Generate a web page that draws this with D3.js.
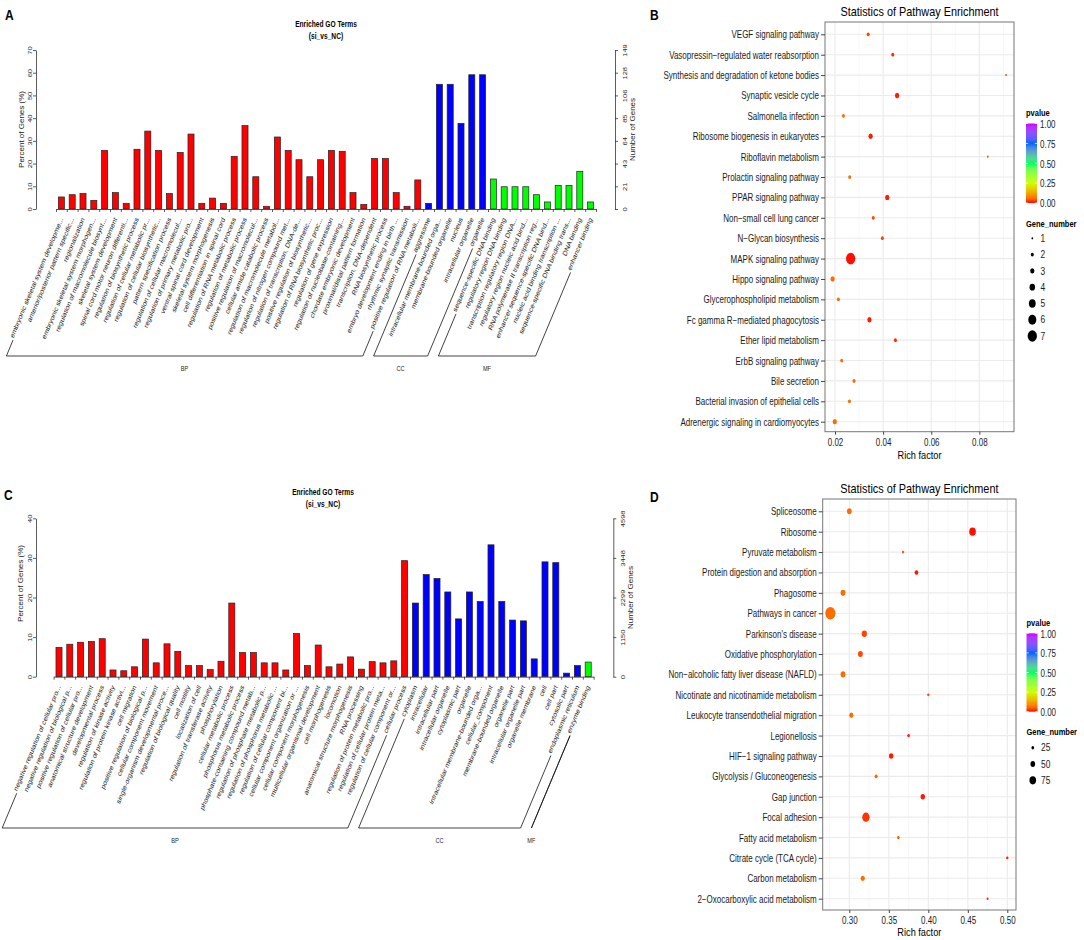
<!DOCTYPE html>
<html><head><meta charset="utf-8">
<script src="https://cdn.jsdelivr.net/npm/d3@7"></script>
<style>body{margin:0;background:#fff;} svg{display:block;}</style>
</head><body><script>
// ---------------- DATA ----------------
const goGroupNames = ["BP","CC","MF"];
const goGroupColors = ["#FF0000","#0000FF","#00FF00"];

const goTermsA = ["embryonic skeletal system developme...","anterior/posterior pattern specific...","regionalization","embryonic skeletal system morphogen...","regulation of macromolecule biosynt...","skeletal system development","spinal cord motor neuron differenti...","regulation of biosynthetic process","regulation of cellular metabolic pr...","regulation of cellular biosynthetic...","pattern specification process","regulation of cellular macromolecul...","regulation of primary metabolic pro...","ventral spinal cord development","skeletal system morphogenesis","cell differentiation in spinal cord","regulation of RNA metabolic process","regulation of metabolic process","positive regulation of macromolecul...","cellular amide catabolic process","regulation of macromolecule metabol...","regulation of nitrogen compound met...","regulation of transcription, DNA-de...","positive regulation of biosynthetic...","regulation of RNA biosynthetic proc...","regulation of gene expression","regulation of nucleobase-containing...","chordate embryonic development","proximal/distal pattern formation","transcription, DNA-dependent","RNA biosynthetic process","embryo development ending in birth ...","rhythmic synaptic transmission","positive regulation of RNA metaboli...","aggresome","intracellular membrane-bounded orga...","membrane-bounded organelle","nucleus","intracellular organelle","organelle","sequence-specific DNA binding","regulatory region DNA binding","transcription regulatory region DNA...","regulatory region nucleic acid bind...","RNA polymerase II transcription reg...","enhancer sequence-specific DNA bind...","nucleic acid binding transcription ...","sequence-specific DNA binding trans...","DNA binding","enhancer binding"];
const goPercentA = [5.3,6.3,6.8,3.8,25.8,7.2,2.5,26.3,34.3,25.8,6.8,24.9,33.0,2.5,4.8,2.5,23.2,36.7,14.2,1.2,31.7,25.8,21.7,14.2,21.7,25.8,25.4,7.2,2.0,22.2,22.2,7.2,1.2,12.8,2.5,54.9,54.9,37.7,59.1,59.1,13.2,9.8,9.8,9.8,6.3,3.1,10.4,10.4,16.6,3.1];
const goGroupSizesA = [34,6,10];
const goLeftTicksA = [0,10,20,30,40,50,60,70];
const goRightTicksA = [0,21,43,64,85,106,128,149];

const goTermsC = ["negative regulation of cellular pro...","negative regulation of biological p...","positive regulation of cellular pro...","anatomical structure development","developmental process","regulation of kinase activity","regulation of protein kinase activi...","cell migration","positive regulation of biological p...","cellular component movement","single-organism developmental proce...","regulation of biological quality","cell motility","localization of cell","regulation of transferase activity","phosphorylation","cellular metabolic process","phosphorus metabolic process","phosphate-containing compound metab...","regulation of phosphate metabolic p...","regulation of phosphorus metabolic ...","regulation of cellular component bi...","cellular component organization or ...","cellular component morphogenesis","multicellular organismal development","cell morphogenesis","locomotion","anatomical structure morphogenesis","RNA processing","regulation of protein metabolic pro...","regulation of cellular protein meta...","regulation of cellular component or...","cellular process","cytoplasm","intracellular","intracellular part","intracellular organelle","cytoplasmic part","organelle","intracellular membrane-bounded orga...","cellular_component","membrane-bounded organelle","organelle part","intracellular organelle part","organelle membrane","cell","cell part","cytosolic part","endoplasmic reticulum","enzyme binding"];
const goPercentC = [7.4,8.2,8.7,8.9,9.6,1.7,1.5,2.5,9.5,3.5,8.3,6.4,2.8,2.8,1.8,3.9,18.6,6.1,6.1,3.5,3.5,1.7,10.9,2.8,8.0,2.5,3.2,5.0,1.9,3.8,3.5,4.0,29.3,18.6,25.8,24.8,21.4,14.6,21.4,19.0,33.3,19.0,14.3,14.1,4.5,29.0,28.8,0.9,2.8,3.7];
const goGroupSizesC = [33,16,1];
const goLeftTicksC = [0,10,20,30,40];
const goRightTicksC = [0,1150,2299,3448,4598];

const pathwaysB = ["VEGF signaling pathway","Vasopressin\u2212regulated water reabsorption","Synthesis and degradation of ketone bodies","Synaptic vesicle cycle","Salmonella infection","Ribosome biogenesis in eukaryotes","Riboflavin metabolism","Prolactin signaling pathway","PPAR signaling pathway","Non\u2212small cell lung cancer","N\u2212Glycan biosynthesis","MAPK signaling pathway","Hippo signaling pathway","Glycerophospholipid metabolism","Fc gamma R\u2212mediated phagocytosis","Ether lipid metabolism","ErbB signaling pathway","Bile secretion","Bacterial invasion of epithelial cells","Adrenergic signaling in cardiomyocytes"];
const richB = [0.0338,0.0440,0.0911,0.0458,0.0235,0.0348,0.0835,0.0261,0.0417,0.0359,0.0397,0.0265,0.0190,0.0214,0.0343,0.0451,0.0228,0.0279,0.0260,0.0199];
const genesB = [2,2,1,3,2,3,1,2,3,2,2,7,3,2,3,2,2,2,2,3];
const pvalB = [0.025,0.01,0.03,0.005,0.06,0.005,0.03,0.06,0.005,0.025,0.025,0.002,0.06,0.06,0.005,0.01,0.06,0.05,0.06,0.06];
const richTicksB = [0.02,0.04,0.06,0.08];
const geneBreaksB = [1,2,3,4,5,6,7];

const pathwaysD = ["Spliceosome","Ribosome","Pyruvate metabolism","Protein digestion and absorption","Phagosome","Pathways in cancer","Parkinson's disease","Oxidative phosphorylation","Non\u2212alcoholic fatty liver disease (NAFLD)","Nicotinate and nicotinamide metabolism","Leukocyte transendothelial migration","Legionellosis","HIF\u22121 signaling pathway","Glycolysis / Gluconeogenesis","Gap junction","Focal adhesion","Fatty acid metabolism","Citrate cycle (TCA cycle)","Carbon metabolism","2\u2212Oxocarboxylic acid metabolism"];
const richD = [0.300,0.456,0.368,0.385,0.292,0.276,0.319,0.314,0.292,0.400,0.3025,0.375,0.353,0.334,0.393,0.321,0.362,0.500,0.317,0.475];
const genesD = [51,75,19,38,53,119,57,53,53,19,43,25,47,28,47,85,23,19,43,15];
const pvalD = [0.06,0.002,0.04,0.005,0.06,0.06,0.025,0.03,0.06,0.03,0.06,0.005,0.005,0.05,0.005,0.015,0.04,0.005,0.06,0.01];
const richTicksD = [0.30,0.35,0.40,0.45,0.50];
const geneBreaksD = [25,50,75];

const pvalueBreaks = [0,0.25,0.5,0.75,1];
const pvalueColors = ["#FF0000","#CCFF00","#00FF66","#0066FF","#CC00FF"];

// ---------------- DRAWING ----------------
const SX = 0.8; // horizontal squash of the reference figure
const FONT = '"Liberation Sans", Arial, Helvetica, sans-serif';
const svg = d3.select('body').append('svg').attr('width',1084).attr('height',940).style('font-family',FONT);
svg.append('rect').attr('width',1084).attr('height',940).attr('fill','#fff');
const defs = svg.append('defs');

function stext(parent, x, y, s, size, opt={}) {
  const t = parent.append('text')
    .attr('transform', `translate(${x},${y}) scale(${SX},1)` + (opt.rot!==undefined?` rotate(${opt.rot})`:''))
    .attr('text-anchor', opt.anchor||'start')
    .style('font-size', size+'px')
    .attr('fill', opt.fill||'#000')
    .text(s);
  if (opt.bold) t.style('font-weight','bold');
  if (opt.dy) t.attr('dy',opt.dy);
  return t;
}

function goPanel(o) {
  const g = svg.append('g');
  const n = o.terms.length;
  const xb = d3.scaleBand().domain(d3.range(n)).range([o.x0,o.x1]).paddingInner(0.44).paddingOuter(0.22);
  const xl = d3.scaleLinear().domain([0,n]).range([o.x0,o.x1]);
  const y = d3.scaleLinear().domain([0,o.yMax]).range([o.yBase,o.yTop]);
  const grp = o.groupSizes.flatMap((s,gi)=>d3.range(s).map(()=>gi));

  g.append('g').selectAll('rect').data(o.values).join('rect')
    .attr('x',(d,i)=>xb(i)).attr('y',d=>y(d))
    .attr('width',xb.bandwidth()).attr('height',d=>y(0)-y(d))
    .attr('fill',(d,i)=>goGroupColors[grp[i]])
    .attr('stroke','#222').attr('stroke-width',0.7);

  const styleAxis = sel => { sel.attr('font-family',null).attr('font-size',null);
    sel.selectAll('path,line').attr('stroke','#333').attr('stroke-width',0.8); };

  g.append('g').attr('transform',`translate(0,${o.yBase})`)
    .call(d3.axisBottom(xl).tickValues(d3.range(n+1)).tickSize(3).tickSizeOuter(0).tickFormat(''))
    .call(styleAxis);

  const la = g.append('g').attr('transform',`translate(${o.xLeft},0)`)
    .call(d3.axisLeft(y).tickValues(o.leftTicks).tickSize(3).tickSizeOuter(0)).call(styleAxis);
  la.selectAll('text').attr('x',null).attr('dy',null).attr('text-anchor','middle').attr('fill','#222')
    .style('font-size','7.5px').attr('transform',`translate(-4.5,0) scale(${SX},1) rotate(-90)`);

  const ra = g.append('g').attr('transform',`translate(${o.xRight},0)`)
    .call(d3.axisRight(y).tickValues(o.leftTicks).tickSize(3).tickSizeOuter(0)
      .tickFormat((d,i)=>o.rightTicks[i])).call(styleAxis);
  ra.selectAll('text').attr('x',null).attr('dy',null).attr('text-anchor','middle').attr('fill','#222')
    .style('font-size','7.5px').attr('transform',`translate(${o.rightLabOff},0) scale(${SX},1) rotate(-90)`);

  stext(g, o.leftTitleX, o.leftTitleY, 'Percent of Genes (%)', 8, {anchor:'middle', rot:-90, fill:'#222'});
  stext(g, o.rightTitleX, o.rightTitleY, 'Number of Genes', 8, {anchor:'middle', rot:-90, fill:'#222'});
  stext(g, o.titleX, o.titleY1, 'Enriched GO Terms', 8.3, {anchor:'middle', bold:true});
  stext(g, o.titleX, o.titleY2, '(si_vs_NC)', 8.3, {anchor:'middle', bold:true});

  // rotated term labels
  const A0 = 62.4, ca = Math.cos(A0*Math.PI/180), sa = Math.sin(A0*Math.PI/180);
  const ay = o.yBase + 9;
  const cx = i => xb(i) + xb.bandwidth()/2;
  const labs = g.append('g').selectAll('text').data(o.terms).join('text')
    .attr('transform',(d,i)=>`translate(${cx(i)},${ay}) scale(${SX},1) rotate(${-A0})`)
    .attr('text-anchor','end').attr('dy','0.35em').style('font-size','7.6px').attr('fill','#111')
    .text(d=>d);
  const lens = labs.nodes().map(nd=>nd.getComputedTextLength());
  const nrm = Math.hypot(SX*ca, sa);
  const u = {x:-SX*ca/nrm, y:sa/nrm};       // down-left along text
  const p = {x:sa/nrm, y:SX*ca/nrm};        // perpendicular, right-down
  const corner = i => {
    const S = {x: cx(i) - lens[i]*SX*ca, y: ay + lens[i]*sa};
    const T = {x: S.x + 2*u.x + 2.5*p.x, y: S.y + 2*u.y + 2.5*p.y};
    const t = (o.bracketY - T.y)/u.y;
    return {T, B:{x: T.x + t*u.x, y:o.bracketY}};
  };
  let start = 0;
  o.groupSizes.forEach((s,gi)=>{
    const a = corner(start), b = corner(start+s-1);
    g.append('path').attr('d',`M${a.T.x},${a.T.y}L${a.B.x},${a.B.y}L${b.B.x},${b.B.y}L${b.T.x},${b.T.y}`)
      .attr('fill','none').attr('stroke','#111').attr('stroke-width',0.8);
    stext(g, (a.B.x+b.B.x)/2, o.groupLabelY, goGroupNames[gi], 7, {anchor:'middle', fill:'#222'});
    start += s;
  });
  stext(g, o.letterX, o.letterY, o.letter, 15, {bold:true});
}

const colorScale = d3.scaleLinear().domain(pvalueBreaks).range(pvalueColors).interpolate(d3.interpolateLab);

function dotPanel(o) {
  const g = svg.append('g');
  const x = d3.scaleLinear().domain(o.xDomain).range([o.left,o.right]);
  const y = d3.scalePoint().domain(o.pathways).range([o.firstY,o.lastY]);
  const r = d3.scaleLinear().domain(o.rDomain).range(o.rRange);

  g.append('g').selectAll('line').data(o.minor).join('line')
    .attr('x1',d=>x(d)).attr('x2',d=>x(d)).attr('y1',o.top).attr('y2',o.bottom)
    .attr('stroke','#f4f4f4').attr('stroke-width',0.6);
  g.append('g').selectAll('line').data(o.xTicks).join('line')
    .attr('x1',d=>x(d)).attr('x2',d=>x(d)).attr('y1',o.top).attr('y2',o.bottom)
    .attr('stroke','#ebebeb').attr('stroke-width',1.1);
  g.append('g').selectAll('line').data(o.pathways).join('line')
    .attr('x1',o.left).attr('x2',o.right).attr('y1',d=>y(d)).attr('y2',d=>y(d))
    .attr('stroke','#ebebeb').attr('stroke-width',1.1);

  g.append('g').selectAll('ellipse').data(o.pathways).join('ellipse')
    .attr('cx',(d,i)=>x(o.rich[i])).attr('cy',d=>y(d))
    .attr('rx',(d,i)=>SX*r(o.genes[i])).attr('ry',(d,i)=>r(o.genes[i]))
    .attr('fill',(d,i)=>colorScale(o.pval[i]));

  g.append('rect').attr('x',o.left).attr('y',o.top).attr('width',o.right-o.left).attr('height',o.bottom-o.top)
    .attr('fill','none').attr('stroke','#777').attr('stroke-width',1);

  const la = g.append('g').attr('transform',`translate(${o.left},0)`).call(d3.axisLeft(y).tickSize(4));
  la.select('.domain').remove();
  la.attr('font-family',null).attr('font-size',null);
  la.selectAll('line').attr('stroke','#444');
  la.selectAll('text').attr('x',null).attr('dy','0.35em').attr('fill','#1a1a1a').style('font-size','10px')
    .attr('transform',`translate(-6,0) scale(${SX},1)`);

  const ba = g.append('g').attr('transform',`translate(0,${o.bottom})`)
    .call(d3.axisBottom(x).tickValues(o.xTicks).tickSize(3).tickFormat(d3.format('.2f')));
  ba.select('.domain').remove();
  ba.attr('font-family',null).attr('font-size',null);
  ba.selectAll('line').attr('stroke','#444');
  ba.selectAll('text').attr('y',null).attr('dy',null).attr('fill','#1a1a1a').style('font-size','10px')
    .attr('transform',`translate(0,${o.tickLabOff}) scale(${SX},1)`);

  stext(g, (o.left+o.right)/2, o.xTitleY, 'Rich factor', 11.5, {anchor:'middle'});
  stext(g, (o.left+o.right)/2, o.titleY, 'Statistics of Pathway Enrichment', 13.6, {anchor:'middle'});
  stext(g, o.letterX, o.letterY, o.letter, 15, {bold:true});

  // colour bar legend
  stext(g, o.legX, o.pTitleY, 'pvalue', 9.4, {bold:true});
  const gid = 'grad'+o.letter;
  const grad = defs.append('linearGradient').attr('id',gid).attr('x1',0).attr('y1',1).attr('x2',0).attr('y2',0);
  grad.selectAll('stop').data(d3.range(0,1.0001,0.05)).join('stop')
    .attr('offset',d=>d).attr('stop-color',d=>colorScale(d));
  const yb = d3.scaleLinear().domain([0,1]).range([o.barBottom,o.barTop]);
  g.append('rect').attr('x',o.legX).attr('y',o.barTop).attr('width',11).attr('height',o.barBottom-o.barTop)
    .attr('fill',`url(#${gid})`);
  g.append('g').selectAll('path').data(pvalueBreaks).join('path')
    .attr('d',d=>`M${o.legX},${yb(d)}h2.2M${o.legX+8.8},${yb(d)}h2.2`)
    .attr('stroke','#fff').attr('stroke-width',0.8);
  g.append('g').selectAll('text').data(pvalueBreaks).join('text')
    .attr('transform',d=>`translate(${o.legX+14},${yb(d)+0.8}) scale(${SX},1)`).attr('dy','0.35em')
    .style('font-size','10px').attr('fill','#1a1a1a').text(d3.format('.2f'));

  // size legend
  stext(g, o.legX, o.gTitleY, 'Gene_number', 9.4, {bold:true});
  const ly = d3.scalePoint().domain(o.geneBreaks).range([o.gFirstY,o.gLastY]);
  g.append('g').selectAll('ellipse').data(o.geneBreaks).join('ellipse')
    .attr('cx',o.legX+6.3).attr('cy',d=>ly(d)).attr('rx',d=>SX*r(d)).attr('ry',d=>r(d)).attr('fill','#000');
  g.append('g').selectAll('text').data(o.geneBreaks).join('text')
    .attr('transform',d=>`translate(${o.legX+14.5},${ly(d)}) scale(${SX},1)`).attr('dy','0.35em')
    .style('font-size','10.5px').attr('fill','#1a1a1a').text(d=>d);
}

goPanel({terms:goTermsA, values:goPercentA, groupSizes:goGroupSizesA, leftTicks:goLeftTicksA, rightTicks:goRightTicksA,
  x0:56, x1:596, yBase:209, yTop:50, yMax:70, xLeft:36, xRight:615, rightLabOff:12.2,
  leftTitleX:23.5, leftTitleY:129.5, rightTitleX:635, rightTitleY:129.5,
  titleX:326, titleY1:27.2, titleY2:39, bracketY:356, groupLabelY:370.8,
  letter:'A', letterX:5, letterY:20});

goPanel({terms:goTermsC, values:goPercentC, groupSizes:goGroupSizesC, leftTicks:goLeftTicksC, rightTicks:goRightTicksC,
  x0:53.6, x1:593.6, yBase:676.7, yTop:518.3, yMax:40, xLeft:36, xRight:613.3, rightLabOff:11.6,
  leftTitleX:22.5, leftTitleY:583.5, rightTitleX:633.3, rightTitleY:597.5,
  titleX:323, titleY1:495.2, titleY2:507, bracketY:828, groupLabelY:842.5,
  letter:'C', letterX:4, letterY:500});

dotPanel({pathways:pathwaysB, rich:richB, genes:genesB, pval:pvalB, xTicks:richTicksB, minor:[0.03,0.05,0.07,0.09],
  xDomain:[0.01584,0.0944], left:825, right:1014, top:22, bottom:431.7, firstY:34.3, lastY:421.7,
  rDomain:[1,7], rRange:[1.1,5.8], tickLabOff:14.6, xTitleY:459, titleY:15.7,
  letter:'B', letterX:650, letterY:20,
  legX:1026, pTitleY:116, barTop:123.5, barBottom:203, gTitleY:226.5, geneBreaks:geneBreaksB, gFirstY:238.3, gLastY:336});

dotPanel({pathways:pathwaysD, rich:richD, genes:genesD, pval:pvalD, xTicks:richTicksD, minor:[0.275,0.325,0.375,0.425,0.475],
  xDomain:[0.2663,0.511], left:822.7, right:1016, top:499, bottom:910, firstY:511.3, lastY:898.7,
  rDomain:[0,120], rRange:[0.5,6.3], tickLabOff:14, xTitleY:936, titleY:492.7,
  letter:'D', letterX:650, letterY:501.7,
  legX:1026.5, pTitleY:625.5, barTop:633.3, barBottom:711.7, gTitleY:735.3, geneBreaks:geneBreaksD, gFirstY:747.7, gLastY:780.3});
</script></body></html>
